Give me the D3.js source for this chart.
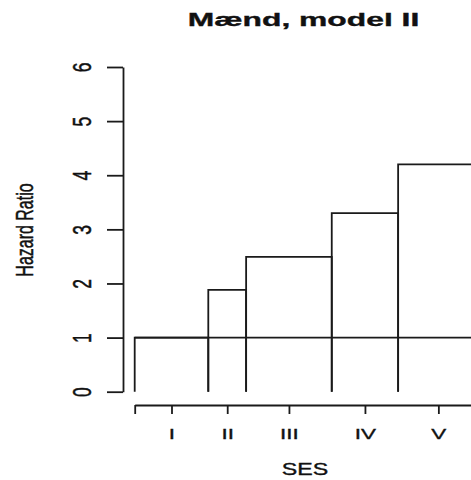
<!DOCTYPE html>
<html>
<head>
<meta charset="utf-8">
<script src="https://cdn.jsdelivr.net/npm/d3@7"></script>
<style>
  body { margin: 0; background: #fff; }
  text { font-family: "Liberation Sans", Arial, sans-serif; fill: #111; stroke: #111; stroke-width: 0.35; }
</style>
</head>
<body>
<svg id="chart" width="471" height="480"></svg>
<script>
// SES groups, hazard ratio per group, and each group's share of the population (bar width, %)
const categories = ["I", "II", "III", "IV", "V"];
const hazardRatios = [1.0, 1.88, 2.49, 3.30, 4.20];
const groupShares = [21.4, 11.0, 24.9, 19.3, 23.4];
const yTicks = [0, 1, 2, 3, 4, 5, 6];
const referenceLevel = 1;

const svg = d3.select("#chart");
const ink = "#1a1a1a";
const stretch = 1.45;      // wide text rendering
const titleStretch = 1.72;

const x = d3.scaleLinear().domain([0, d3.sum(groupShares)]).range([134.7, 478.6]);
const y = d3.scaleLinear().domain([0, 6]).range([391.7, 67]);

const starts = [0, ...d3.cumsum(groupShares)].slice(0, categories.length);
const bars = categories.map((c, i) => ({
  cat: c, hr: hazardRatios[i], x0: starts[i], x1: starts[i] + groupShares[i]
}));

// Bars: open outlines (sides and top)
svg.append("g").selectAll("path").data(bars).join("path")
  .attr("d", d => `M${x(d.x0)},${y(0)}V${y(d.hr)}H${x(d.x1)}V${y(0)}`)
  .attr("fill", "none").attr("stroke", ink).attr("stroke-width", 1.8);

// Reference line at HR = 1
svg.append("line")
  .attr("x1", x(0)).attr("x2", x(d3.sum(groupShares)))
  .attr("y1", y(referenceLevel)).attr("y2", y(referenceLevel))
  .attr("stroke", ink).attr("stroke-width", 1.8);

// Y axis
const yAxis = svg.append("g").attr("transform", "translate(123,0)")
  .call(d3.axisLeft(y).tickValues(yTicks).tickSize(16).tickSizeOuter(0)
    .tickFormat(d3.format("d")));
yAxis.select(".domain").attr("stroke", ink).attr("stroke-width", 1.8);
yAxis.selectAll(".tick line").attr("stroke", ink).attr("stroke-width", 1.8);
yAxis.selectAll(".tick text")
  .attr("x", null).attr("dy", null)
  .attr("text-anchor", "middle")
  .attr("font-size", 17.5)
  .attr("fill", "#111")
  .attr("transform", `translate(-32.3,0) scale(${stretch},1) rotate(-90)`);

// X axis: ticks at start, group midpoints and end
const mids = bars.map(d => (d.x0 + d.x1) / 2);
const xTickVals = [0, ...mids, d3.sum(groupShares)];
const xTickLabels = ["", ...categories, ""];
const xAxis = svg.append("g").attr("transform", "translate(0,405)")
  .call(d3.axisBottom(x).tickValues(xTickVals).tickSize(9).tickSizeOuter(0)
    .tickFormat((d, i) => xTickLabels[i]));
xAxis.select(".domain").attr("stroke", ink).attr("stroke-width", 1.8);
xAxis.selectAll(".tick line").attr("stroke", ink).attr("stroke-width", 1.8);
xAxis.selectAll(".tick text")
  .attr("y", null).attr("dy", null)
  .attr("text-anchor", "middle")
  .attr("font-size", 15.5)
  .attr("fill", "#1a1a5a").attr("stroke", "#1a1a5a")
  .attr("transform", `translate(0,33.6) scale(${stretch},1)`);

// Axis titles
svg.append("text")
  .attr("transform", `translate(305,475) scale(${stretch},1)`)
  .attr("text-anchor", "middle").attr("font-size", 16)
  .text("SES");

svg.append("text")
  .attr("transform", `translate(32.7,230) scale(${stretch},1) rotate(-90)`)
  .attr("text-anchor", "middle").attr("font-size", 16)
  .text("Hazard Ratio");

// Chart title
svg.append("text")
  .attr("transform", `translate(303.5,26) scale(${titleStretch},1)`)
  .attr("text-anchor", "middle").attr("font-size", 18.5).attr("font-weight", "bold")
  .attr("fill", "#0d0d1a").attr("stroke", "#0d0d1a")
  .text("Mænd, model II");
</script>
</body>
</html>
